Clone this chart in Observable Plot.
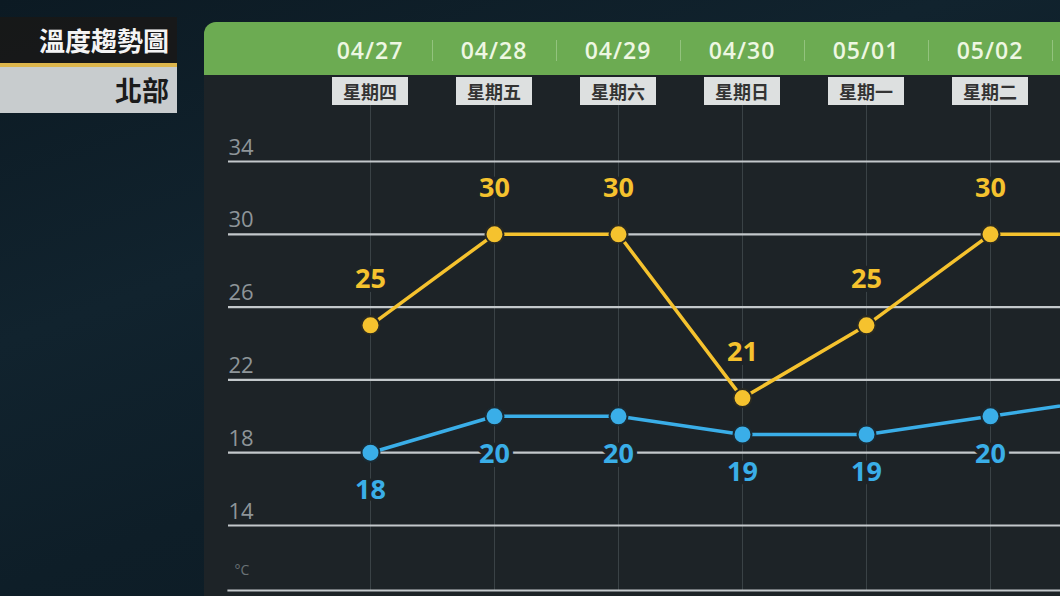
<!DOCTYPE html>
<html>
<head>
<meta charset="utf-8">
<script src="https://cdn.jsdelivr.net/npm/d3@7"></script>
<script src="https://cdn.jsdelivr.net/npm/@observablehq/plot@0.6"></script>
<style>
  html, body { margin:0; padding:0; }
  body {
    width:1060px; height:596px; overflow:hidden; position:relative;
    background: linear-gradient(160deg, #0c1a23 0%, #11232e 35%, #0e1e28 60%, #0c1a23 100%);
    font-family: "Noto Sans CJK TC", "Noto Sans", sans-serif;
  }
  #panel { position:absolute; left:204px; top:22px; width:856px; height:574px; background:#1d2327; border-top-left-radius:12px; overflow:hidden; }
  #hdr { position:absolute; left:0; top:0; width:100%; height:53px; background:#6cab52; }
  #t1 { position:absolute; left:0; top:17px; width:177px; height:46px; background:rgba(24,24,24,0.92); color:#f4f4f4; font-weight:700; font-size:26px; line-height:46px; text-align:right; box-sizing:border-box; padding-right:8px; }
  #bar { position:absolute; left:0; top:63px; width:177px; height:4px; background:#dcb54c; }
  #t2 { position:absolute; left:0; top:67px; width:177px; height:46px; background:#c8ccce; color:#1b1b1b; font-weight:700; font-size:27px; line-height:46px; text-align:right; box-sizing:border-box; padding-right:8px; }
  #chart { position:absolute; left:0; top:0; }
  .date { position:absolute; top:32px; width:100px; margin-left:-50px; text-align:center; color:#eef7e2; font-weight:600; font-size:23px; letter-spacing:1px; line-height:36px; font-family:"Open Sans","Noto Sans",sans-serif; }
  .wk { position:absolute; top:77px; width:76px; margin-left:-38px; height:28px; background:#dde0e0; color:#333; font-weight:700; font-size:18px; line-height:28px; text-align:center; }
  .sep { position:absolute; top:40px; width:1px; height:21px; background:rgba(220,240,210,0.35); }
</style>
</head>
<body>
<div id="panel"><div id="hdr"></div></div>
<div id="t1">溫度趨勢圖</div>
<div id="bar"></div>
<div id="t2">北部</div>
<div id="root"></div>
<script>
const dates = ["04/27","04/28","04/29","04/30","05/01","05/02","05/03"];
const weekdays = ["星期四","星期五","星期六","星期日","星期一","星期二","星期三"];
const highs = [25,30,30,21,25,30,30];
const lows = [18,20,20,19,19,20,21];
const yTicks = [14,18,22,26,30,34];
const visibleDays = 6;

const hiData = dates.map((d,i)=>({date:d, t:highs[i], i}));
const loData = dates.map((d,i)=>({date:d, t:lows[i], i}));
const shown = d => d.i < visibleDays;

const hiColor = "#f5c22e", loColor = "#3aaee8", bg = "#1d2327";
const font = "Open Sans, Noto Sans, sans-serif";

const plot = Plot.plot({
  width:1060, height:596,
  marginLeft:228, marginRight:0, marginTop:105, marginBottom:6,
  style:{background:"transparent"},
  x:{type:"point", domain:dates, range:[367,1116], padding:0, axis:null},
  y:{domain:[14,34], range:[525,161], axis:null},
  marks:[
    Plot.ruleX(dates.slice(0, visibleDays), {x:d=>d, stroke:"#3a4246", strokeWidth:1}),
    Plot.ruleY(yTicks, {y:d=>d, stroke:"#c3c8cb", strokeWidth:2.2}),
    Plot.frame({anchor:"bottom", stroke:"#c3c8cb", strokeWidth:2.2}),
    Plot.text(yTicks, {y:d=>d, text:d=>String(d), frameAnchor:"left", textAnchor:"start", dy:-14, fill:"#8e9599", fontSize:22, fontFamily:font}),
    Plot.text(["°C"], {text:d=>d, frameAnchor:"bottom-left", textAnchor:"start", dx:6, dy:-16, fill:"#6a7276", fontSize:14, fontFamily:font}),
    Plot.line(hiData, {x:"date", y:"t", stroke:hiColor, strokeWidth:3.5, clip:true}),
    Plot.line(loData, {x:"date", y:"t", stroke:loColor, strokeWidth:3.5, clip:true}),
    Plot.dot(hiData, {filter:shown, x:"date", y:"t", r:9, fill:hiColor, stroke:"#2a2a22", strokeWidth:2}),
    Plot.dot(loData, {filter:shown, x:"date", y:"t", r:9, fill:loColor, stroke:"#1a2a33", strokeWidth:2}),
    Plot.text(hiData, {filter:shown, x:"date", y:"t", text:d=>String(d.t), dy:-46, fill:hiColor, fontSize:27, fontWeight:700, fontFamily:font, stroke:bg, strokeWidth:8}),
    Plot.text(loData, {filter:shown, x:"date", y:"t", text:d=>String(d.t), dy:38, fill:loColor, fontSize:27, fontWeight:700, fontFamily:font, stroke:bg, strokeWidth:8})
  ]
});
plot.id = "chart";
document.getElementById("root").appendChild(plot);

const xs = plot.scale("x");
const root = document.getElementById("root");
dates.forEach((d,i)=>{
  const x = xs.apply(d);
  if (i < visibleDays) {
    const a = document.createElement("div"); a.className="date"; a.style.left = x+"px"; a.textContent = d; root.appendChild(a);
    const b = document.createElement("div"); b.className="wk"; b.style.left = x+"px"; b.textContent = weekdays[i]; root.appendChild(b);
  }
  if (i < dates.length-1) {
    const m = (x + xs.apply(dates[i+1]))/2;
    if (m < 1060) { const s = document.createElement("div"); s.className="sep"; s.style.left = m+"px"; root.appendChild(s); }
  }
});
</script>
</body>
</html>
